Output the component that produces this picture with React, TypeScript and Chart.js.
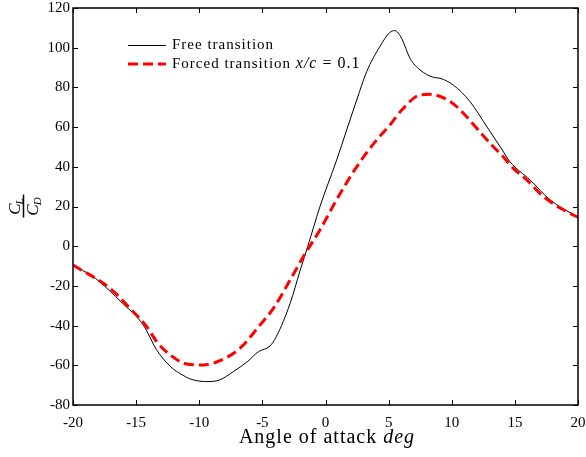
import React, { useEffect, useRef } from "react";
import { Chart, registerables } from "chart.js";

Chart.register(...registerables);

// ---- data ----
const freeX = [-20, -18.5, -17.9, -16.2, -14.4, -13.4, -12.3, -11.3, -10.5, -9.4, -8.4, -7.3, -6.2, -5.3, -4.4, -3.9, -2.8, -2.0, -1.4, -0.44, 0.88, 2.47, 3.26, 4.3, 5.1, 5.5, 6.03, 6.69, 7.49, 8.54, 9.07, 10.12, 11.45, 12.8, 14.0, 14.6, 16.2, 17.8, 20];
const freeY = [-9.5, -15, -17.9, -28, -40, -52, -60.5, -65, -67.3, -68.2, -67.4, -63.2, -58.2, -53.1, -50.3, -45.6, -28.8, -12, 0, 19.9, 43.4, 73.6, 87.9, 100.5, 107.7, 108.6, 104.7, 94.7, 88.8, 85.1, 84.6, 81.2, 72.8, 60, 48.5, 42.6, 33.4, 23.3, 14.5];

const forcedX = [-20, -17.07, -15.49, -14.16, -13.37, -12.3, -11.0, -9.67, -8.36, -6.77, -5.19, -4.13, -2.8, -1.76, -0.44, 1.01, 2.47, 4.05, 5.1, 6.04, 7.49, 8.3, 9.9, 10.92, 11.98, 13.16, 13.96, 14.88, 15.94, 16.99, 18.18, 19.37, 20];
const forcedY = [-9.5, -21.2, -31.3, -40.5, -48.1, -54.8, -59.3, -59.8, -57.7, -51.4, -39.7, -31.3, -17, -5.3, 8.2, 24.9, 40, 53.5, 61, 68.6, 76.2, 76.5, 72.8, 67, 59.4, 51, 45.9, 39.2, 33.4, 26.6, 20.8, 16.6, 14.5];

const xTicks = [-20, -15, -10, -5, 0, 5, 10, 15, 20];
const yTicks = [-80, -60, -40, -20, 0, 20, 40, 60, 80, 100, 120];

const freeLabel = "Free transition";
const forcedLabel = "Forced transition ";
const forcedMath = "x/c";
const forcedValue = " = 0.1";
const xTitleText = "Angle of attack ";
const xTitleUnit = "deg";

const SERIF = "'Liberation Serif', 'DejaVu Serif', serif";

const overlayPlugin = {
  id: "overlay",
  afterDraw(chart: any) {
    const { ctx, chartArea: a, scales } = chart;
    const xs = scales.x;
    const ys = scales.y;
    ctx.save();
    // frame
    ctx.strokeStyle = "#000";
    ctx.lineWidth = 1.5;
    ctx.strokeRect(a.left, a.top, a.right - a.left, a.bottom - a.top);
    // inward ticks on all sides
    ctx.lineWidth = 1;
    ctx.beginPath();
    const tl = 5;
    for (const v of xTicks) {
      const px = Math.round(xs.getPixelForValue(v)) + 0.5;
      ctx.moveTo(px, a.bottom);
      ctx.lineTo(px, a.bottom - tl);
      ctx.moveTo(px, a.top);
      ctx.lineTo(px, a.top + tl);
    }
    for (const v of yTicks) {
      const py = Math.round(ys.getPixelForValue(v)) + 0.5;
      ctx.moveTo(a.left, py);
      ctx.lineTo(a.left + tl, py);
      ctx.moveTo(a.right, py);
      ctx.lineTo(a.right - tl, py);
    }
    ctx.stroke();

    // legend
    const lx0 = 128, lx1 = 166, tx = 172;
    const r1 = 45, r2 = 64;
    ctx.strokeStyle = "#000";
    ctx.lineWidth = 1;
    ctx.beginPath();
    ctx.moveTo(lx0, r1 + 0.5);
    ctx.lineTo(lx1, r1 + 0.5);
    ctx.stroke();
    ctx.strokeStyle = "#ff0000";
    ctx.lineWidth = 3;
    ctx.setLineDash([10, 5]);
    ctx.beginPath();
    ctx.moveTo(lx0, r2);
    ctx.lineTo(lx1, r2);
    ctx.stroke();
    ctx.setLineDash([]);
    ctx.fillStyle = "#000";
    ctx.textBaseline = "middle";
    ctx.textAlign = "left";
    (ctx as any).letterSpacing = "1px";
    ctx.font = `15px ${SERIF}`;
    ctx.fillText(freeLabel, tx, r1);
    ctx.fillText(forcedLabel, tx, r2);
    let cx = tx + ctx.measureText(forcedLabel).width;
    ctx.font = `italic 16px ${SERIF}`;
    ctx.fillText(forcedMath, cx, r2);
    cx += ctx.measureText(forcedMath).width;
    ctx.font = `16px ${SERIF}`;
    ctx.fillText(forcedValue, cx, r2);

    // x title
    ctx.textBaseline = "alphabetic";
    ctx.font = `20px ${SERIF}`;
    const w1 = ctx.measureText(xTitleText).width;
    ctx.font = `italic 20px ${SERIF}`;
    const w2 = ctx.measureText(xTitleUnit).width;
    const startX = 327 - (w1 + w2) / 2;
    ctx.font = `20px ${SERIF}`;
    ctx.fillText(xTitleText, startX, 443);
    ctx.font = `italic 20px ${SERIF}`;
    ctx.fillText(xTitleUnit, startX + w1, 443);
    (ctx as any).letterSpacing = "0px";

    // y title: fraction C_L / C_D rotated
    ctx.translate(23.5, 206);
    ctx.rotate(-Math.PI / 2);
    ctx.lineWidth = 1.5;
    ctx.strokeStyle = "#000";
    ctx.beginPath();
    ctx.moveTo(-11.5, 0);
    ctx.lineTo(11.5, 0);
    ctx.stroke();
    const drawSub = (main: string, sub: string, baseY: number) => {
      ctx.font = `italic 17px ${SERIF}`;
      const mw = ctx.measureText(main).width;
      ctx.font = `italic 11px ${SERIF}`;
      const sw = ctx.measureText(sub).width;
      const sx = -(mw + sw) / 2;
      ctx.font = `italic 17px ${SERIF}`;
      ctx.fillText(main, sx, baseY);
      ctx.font = `italic 11px ${SERIF}`;
      ctx.fillText(sub, sx + mw - 1, baseY + 3);
    };
    ctx.textAlign = "left";
    drawSub("C", "L", -4);
    drawSub("C", "D", 14);
    ctx.restore();
  },
};

export default function App() {
  const ref = useRef<HTMLCanvasElement | null>(null);
  useEffect(() => {
    if (!ref.current) return;
    const chart = new Chart(ref.current, {
      type: "line",
      data: {
        datasets: [
          {
            label: freeLabel,
            data: freeX.map((x, i) => ({ x, y: freeY[i] })),
            borderColor: "#000",
            borderWidth: 1,
            pointRadius: 0,
            cubicInterpolationMode: "monotone",
            fill: false,
            order: 1,
          },
          {
            label: forcedLabel + forcedMath + forcedValue,
            data: forcedX.map((x, i) => ({ x, y: forcedY[i] })),
            borderColor: "#ff0000",
            borderWidth: 3,
            borderDash: [10, 5],
            pointRadius: 0,
            cubicInterpolationMode: "monotone",
            fill: false,
            order: 0,
          },
        ],
      },
      options: {
        responsive: false,
        animation: false,
        devicePixelRatio: 1,
        layout: { padding: { left: 0, right: 8, top: 8, bottom: 0 } },
        plugins: { legend: { display: false }, tooltip: { enabled: false } },
        scales: {
          x: {
            type: "linear",
            min: -20,
            max: 20,
            afterBuildTicks: (s: any) => {
              s.ticks = xTicks.map((v) => ({ value: v }));
            },
            afterFit: (s: any) => {
              s.height = 52;
              s.paddingLeft = 0;
              s.paddingRight = 0;
            },
            grid: { display: false, drawTicks: false },
            border: { display: false },
            ticks: {
              color: "#000",
              font: { family: SERIF, size: 15 },
              padding: 9,
              maxRotation: 0,
              autoSkip: false,
              callback: (v: any) => String(v),
            },
          },
          y: {
            type: "linear",
            min: -80,
            max: 120,
            afterBuildTicks: (s: any) => {
              s.ticks = yTicks.map((v) => ({ value: v }));
            },
            afterFit: (s: any) => {
              s.width = 73;
              s.paddingTop = 0;
              s.paddingBottom = 0;
            },
            grid: { display: false, drawTicks: false },
            border: { display: false },
            ticks: {
              color: "#000",
              font: { family: SERIF, size: 15 },
              padding: 3,
              autoSkip: false,
              callback: (v: any) => String(v),
            },
          },
        },
      },
      plugins: [overlayPlugin],
    });
    return () => chart.destroy();
  }, []);
  return (
    <div style={{ position: "absolute", left: 0, top: 0, width: 586, height: 457, background: "#fff" }}>
      <canvas ref={ref} width={586} height={457} />
    </div>
  );
}
